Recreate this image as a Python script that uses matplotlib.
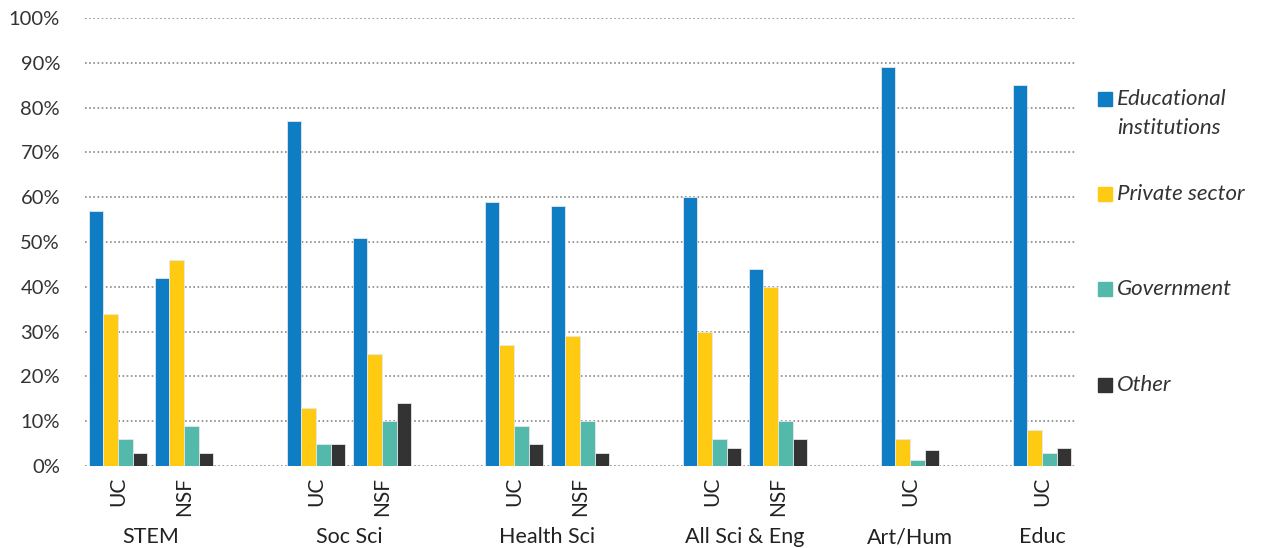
import numpy as np
import matplotlib.pyplot as plt
from matplotlib.patches import Rectangle

plt.rcParams['font.family'] = ['Lato', 'DejaVu Sans']

# x categories (blank slots separate the groups)
slots = ['UC', 'NSF', '', 'UC', 'NSF', '', 'UC', 'NSF', '', 'UC', 'NSF', '', 'UC', '', 'UC']
groups = ['STEM', 'Soc Sci', 'Health Sci', 'All Sci & Eng', 'Art/Hum', 'Educ']
group_slots = [(0, 1), (3, 4), (6, 7), (9, 10), (12,), (14,)]

series = ['Educational\ninstitutions', 'Private sector', 'Government', 'Other']
colors = ['#0E7DC4', '#FFCA12', '#52B9AB', '#333333']

# values per non-blank slot, in %
educ = [57, 42, 77, 51, 59, 58, 60, 44, 89, 85]
private = [34, 46, 13, 25, 27, 29, 30, 40, 6, 8]
govt = [6, 9, 5, 10, 9, 10, 6, 10, 1.3, 3]
other = [3, 3, 5, 14, 5, 3, 4, 6, 3.6, 4]
data = [educ, private, govt, other]

pos = np.array([i for i, s in enumerate(slots) if s])

W, H = 1262, 548
fig = plt.figure(figsize=(W / 100, H / 100), dpi=100)
ax = fig.add_axes([85 / W, 1 - 466 / H, 990 / W, 448 / H])

w = 0.22
for k in range(4):
    ax.bar(pos + (k - 1.5) * w, data[k], w, color=colors[k], label=series[k],
           edgecolor='#e8e8e8', linewidth=0.6, zorder=3)

ax.set_xlim(-0.5, len(slots) - 0.5)
ax.set_ylim(0, 100)
ax.set_yticks(range(0, 101, 10))
ax.set_yticklabels([f'{v}%' for v in range(0, 101, 10)], fontsize=14.5, color='#333333')
ax.set_xticks(pos)
ax.set_xticklabels([slots[p] for p in pos], rotation=90, fontsize=15, color='#222222')
ax.tick_params(length=0, pad=8)
ax.tick_params(axis='y', pad=18)
ax.grid(axis='y', color='#888888', linestyle=(0, (1, 1.5)), linewidth=1.2, zorder=0)
for sp in ax.spines.values():
    sp.set_visible(False)

for name, sl in zip(groups, group_slots):
    ax.text(np.mean(sl), -0.172, name, transform=ax.get_xaxis_transform(),
            ha='center', va='baseline', fontsize=15.5, color='#222222')

# legend, drawn by hand so the square sits on the first line of the label
leg_y = [99, 194, 289, 385]
for k in range(4):
    fig.add_artist(Rectangle((1098 / W, 1 - (leg_y[k] + 7) / H), 14 / W, 14 / H,
                             transform=fig.transFigure, color=colors[k]))
    lines = series[k].split('\n')
    for j, line in enumerate(lines):
        fig.text(1117 / W, 1 - (leg_y[k] + 29 * j) / H, line, fontsize=16,
                 style='italic', color='#333333', va='center', ha='left')

fig.savefig('out.png', dpi=100)
